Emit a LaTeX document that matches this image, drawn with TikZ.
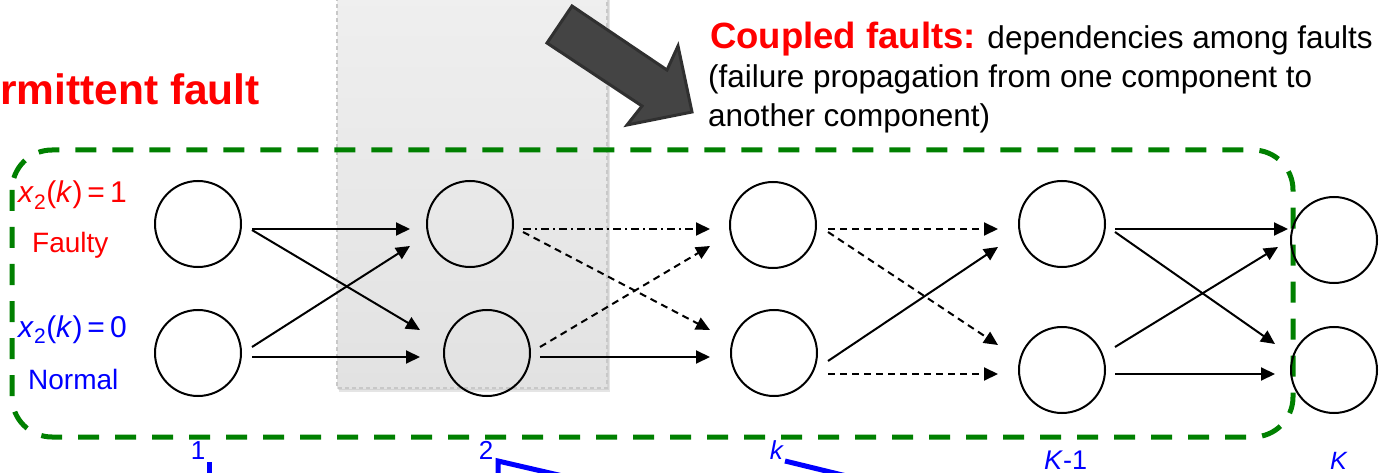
\documentclass[tikz,border=0pt]{standalone}
\usepackage{fontspec}
\setmainfont{Liberation Sans}
\usetikzlibrary{arrows.meta}

\definecolor{faultred}{RGB}{255,0,0}
\definecolor{normblue}{RGB}{0,0,255}
\definecolor{boxgreen}{RGB}{0,128,0}
\definecolor{panelborder}{RGB}{200,200,200}
\definecolor{paneltop}{RGB}{239,239,239}
\definecolor{panelbot}{RGB}{226,226,226}
\definecolor{blockfill}{RGB}{68,68,68}
\definecolor{blockedge}{RGB}{48,48,48}

% font size in pt (1pt = 1 unit of the picture)
\newcommand\pxsize[1]{\fontsize{#1}{#1}\selectfont}

\begin{document}
\begin{tikzpicture}[x=1pt,y=-1pt,
  state/.style={circle, draw, line width=2pt, minimum size=86pt, inner sep=0pt},
  conn/.style={line width=2pt, -{Triangle[length=14pt,width=13pt]}},
  dashconn/.style={conn, dash pattern=on 7pt off 5pt},
  dashdotconn/.style={conn, dash pattern=on 8pt off 4pt on 2pt off 4pt},
  lbl/.style={inner sep=0pt, anchor=base west},
  steplbl/.style={inner sep=0pt, anchor=base, text=normblue, font=\pxsize{26}},
  blueline/.style={draw=normblue, line width=5pt, line join=miter}]

\useasboundingbox (0,0) rectangle (1398,473);

% highlighted time slice (shadow, then panel)
\fill[black, opacity=0.10] (339,-10) rectangle (610,392);
\fill[black, opacity=0.08] (338,-10) rectangle (609,390);
\shade[top color=paneltop, bottom color=panelbot, draw=panelborder,
       line width=1.5pt, dash pattern=on 4pt off 3pt]
  (337,-10) rectangle (607,388);

% dashed envelope around the chain
\draw[boxgreen, line width=5pt, dash pattern=on 21pt off 16pt, rounded corners=40pt]
  (12,150) rectangle (1293,437);

% block arrow pointing at the annotation
\draw[fill=blockfill, draw=blockedge, line width=3pt, line join=miter]
  (572,6) -- (667,70) -- (678,46) -- (692,112) -- (627,125) -- (642,106) -- (547,43) -- cycle;

% titles
\node[lbl, text=faultred, font=\bfseries\pxsize{42.5}] (tint) at (0,105) {rmittent fault};
\node[lbl, font=\pxsize{31.5}] (cf1) at (710,49)
  {{\color{faultred}\bfseries\pxsize{36.5}Coupled faults:} dependencies among faults};
\node[lbl, font=\pxsize{31.5}] (cf2) at (708,88) {(failure propagation from one component to};
\node[lbl, font=\pxsize{31.5}] (cf3) at (708,127) {another component)};

% state labels
\node[lbl, text=faultred, font=\pxsize{30}] (s1) at (18,203)
  {\textit{x}\textsubscript{2}(\textit{k})\,=\,1};
\node[lbl, text=faultred, font=\pxsize{28}] (faulty) at (32,253) {Faulty};
\node[lbl, text=normblue, font=\pxsize{30}] (s0) at (18,337)
  {\textit{x}\textsubscript{2}(\textit{k})\,=\,0};
\node[lbl, text=normblue, font=\pxsize{28}] (normal) at (28,389) {Normal};

% states: upper row faulty, lower row normal
\node[state] (a1) at (198,224) {};
\node[state] (b1) at (198,353) {};
\node[state] (a2) at (470,224) {};
\node[state] (b2) at (487,353) {};
\node[state] (a3) at (773,225) {};
\node[state] (b3) at (774,353) {};
\node[state] (a4) at (1062,224) {};
\node[state] (b4) at (1062,370) {};
\node[state] (a5) at (1334,240) {};
\node[state] (b5) at (1334,370) {};

% transitions 1 -> 2
\draw[conn] ([shift={(54,5)}]a1.center) -- ([shift={(-60,5)}]a2.center);
\draw[conn] ([shift={(54,6)}]a1.center) -- ([shift={(-67,-23)}]b2.center);
\draw[conn] ([shift={(54,-6)}]b1.center) -- ([shift={(-60,22)}]a2.center);
\draw[conn] ([shift={(54,4)}]b1.center) -- ([shift={(-67,4)}]b2.center);

% transitions 2 -> k
\draw[dashdotconn] ([shift={(53,5)}]a2.center) -- ([shift={(-63,4)}]a3.center);
\draw[dashconn] ([shift={(53,8)}]a2.center) -- ([shift={(-64,-23)}]b3.center);
\draw[dashconn] ([shift={(53,-6)}]b2.center) -- ([shift={(-63,21)}]a3.center);
\draw[conn] ([shift={(53,4)}]b2.center) -- ([shift={(-64,4)}]b3.center);

% transitions k -> K-1
\draw[dashconn] ([shift={(55,4)}]a3.center) -- ([shift={(-64,5)}]a4.center);
\draw[dashconn] ([shift={(55,7)}]a3.center) -- ([shift={(-64,-25)}]b4.center);
\draw[conn] ([shift={(54,8)}]b3.center) -- ([shift={(-64,23)}]a4.center);
\draw[dashconn] ([shift={(54,21)}]b3.center) -- ([shift={(-64,4)}]b4.center);

% transitions K-1 -> K
\draw[conn] ([shift={(53,5)}]a4.center) -- ([shift={(-46,-11)}]a5.center);
\draw[conn] ([shift={(53,8)}]a4.center) -- ([shift={(-59,-26)}]b5.center);
\draw[conn] ([shift={(53,-23)}]b4.center) -- ([shift={(-56,7)}]a5.center);
\draw[conn] ([shift={(53,4)}]b4.center) -- ([shift={(-59,4)}]b5.center);

% time step labels
\node[steplbl] (l1) at (198,459) {1};
\node[steplbl] (l2) at (486,459) {2};
\node[steplbl] (lk) at (777,459) {\textit{k}};
\node[lbl, text=normblue, font=\pxsize{27}] (lK1) at (1044,469) {\textit{K}-1};
\node[lbl, text=normblue, font=\pxsize{25}] (lK) at (1330,469) {\textit{K}};

% pointer lines leaving the step labels
\draw[blueline] ([shift={(11,3)}]l1.base) -- ++(0,25);
\draw[blueline] ([shift={(12,25)}]l2.base) -- ([shift={(12,2)}]l2.base) -- ++(80,18.5);
\draw[blueline] ([shift={(8,2)}]lk.base) -- ++(80,19.5);

\end{tikzpicture}
\end{document}
